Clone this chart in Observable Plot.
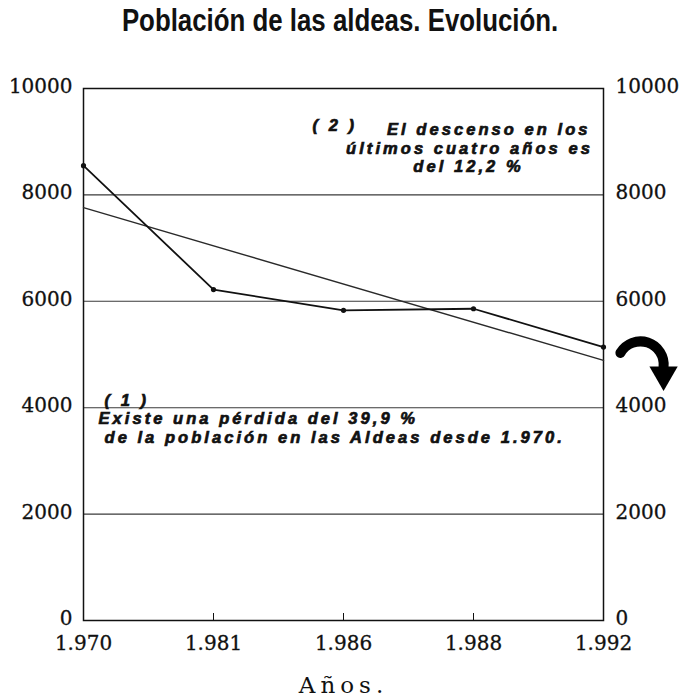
<!DOCTYPE html>
<html>
<head>
<meta charset="utf-8">
<script src="https://cdn.jsdelivr.net/npm/d3@7"></script>
<script src="https://cdn.jsdelivr.net/npm/@observablehq/plot@0.6"></script>
<style>
  body { margin: 0; background: #fff; }
  #title {
    height: 60px; box-sizing: border-box; padding-top: 2px; line-height: 40px; text-align: center;
    font: bold 31.5px "Liberation Sans", Arial, sans-serif; color: #111; white-space: nowrap;
  }
  #title span { display: inline-block; transform: scaleX(0.82); transform-origin: 50% 50%; }
  #chart svg text { font-family: "DejaVu Serif", "Liberation Serif", serif; }
  #chart svg g[aria-label^="y-axis"] text, #chart svg g[aria-label^="x-axis"] text { stroke: #111; stroke-width: 0.3px; }
  #chart svg g.note text {
    font-family: "Liberation Sans", Arial, sans-serif; font-weight: bold; font-style: italic;
    letter-spacing: 3.05px; stroke: #111; stroke-width: 0.7px;
  }
  #chart svg g.xlab text { letter-spacing: 5px; }
</style>
</head>
<body>
<div id="title"><span>Población de las aldeas. Evolución.</span></div>
<div id="chart"></div>
<script>
// ---- data ----
const years = ["1.970", "1.981", "1.986", "1.988", "1.992"];
const population = [8550, 6220, 5830, 5860, 5140];
const trendYears = ["1.970", "1.992"];
const trendValues = [7760, 4890];
const yTicks = [0, 2000, 4000, 6000, 8000, 10000];
const gridValues = [2000, 4000, 6000, 8000];
const note2 = ["( 2 )", "El descenso en los", "últimos cuatro años es", "del 12,2 %"];
const note1 = ["( 1 )", "Existe una pérdida del 39,9 %", "de la población en las Aldeas desde 1.970."];
const xLabel = "Años.";

const data = population.map((v, i) => ({ i, year: years[i], v }));
const trend = trendValues.map((v, k) => ({ i: years.indexOf(trendYears[k]), v }));

const noteStyle = { fontSize: 16.5, fill: "#111", lineAnchor: "bottom", className: "note" };

const chart = Plot.plot({
  width: 680,
  height: 636,
  marginTop: 28,
  marginBottom: 76,
  marginLeft: 83,
  marginRight: 77,
  x: { domain: [0, years.length - 1], label: null },
  y: { domain: [0, 10000], label: null },
  style: { fontSize: "20px", color: "#111", background: "#fff" },
  marks: [
    Plot.ruleY(gridValues, { stroke: "#3a3a3a", strokeWidth: 1.1 }),
    Plot.frame({ stroke: "#111", strokeWidth: 1.5 }),
    Plot.axisY({ ticks: yTicks, anchor: "left", tickSize: 0, tickPadding: 11, dy: -2, tickFormat: d => String(d), label: null }),
    Plot.axisY({ ticks: yTicks, anchor: "right", tickSize: 0, tickPadding: 12, dy: -2, tickFormat: d => String(d), label: null }),
    Plot.axisX({ ticks: d3.range(years.length), tickSize: 0, tickPadding: 15, tickFormat: i => years[i], label: null }),
    Plot.axisX({ ticks: d3.range(1, years.length - 1), tickSize: -7, fill: "none", label: null }),
    Plot.line(trend, { x: "i", y: "v", stroke: "#2a2a2a", strokeWidth: 1.4 }),
    Plot.line(data, { x: "i", y: "v", stroke: "#111", strokeWidth: 1.8 }),
    Plot.dot(data, { x: "i", y: "v", r: 2.6, fill: "#111" }),
    // note (2)
    Plot.text([note2[0]], { ...noteStyle, frameAnchor: "top-left", textAnchor: "start", dx: 229, dy: 42 }),
    Plot.text([note2[1]], { ...noteStyle, frameAnchor: "top-right", textAnchor: "end", dx: -13, dy: 46 }),
    Plot.text([note2[2]], { ...noteStyle, frameAnchor: "top-left", textAnchor: "middle", dx: 386, dy: 65 }),
    Plot.text([note2[3]], { ...noteStyle, frameAnchor: "top-left", textAnchor: "middle", dx: 385, dy: 83 }),
    // note (1)
    Plot.text([note1[0]], { ...noteStyle, frameAnchor: "top-left", textAnchor: "start", dx: 21, dy: 317 }),
    Plot.text([note1[1]], { ...noteStyle, frameAnchor: "top-left", textAnchor: "start", dx: 15, dy: 335 }),
    Plot.text([note1[2]], { ...noteStyle, frameAnchor: "top-left", textAnchor: "start", dx: 21, dy: 354 }),
    // x axis title
    Plot.text([xLabel], { frameAnchor: "bottom", dy: 72, lineAnchor: "bottom", fontSize: 23, fill: "#111", className: "xlab" }),
    // curved arrow decoration at the right: bent shaft + triangular head
    Plot.arrow([0], { x1: () => 4.13, y1: () => 5030, x2: () => 4.462, y2: () => 4760, bend: 78, headLength: 0, stroke: "#000", strokeWidth: 10 }),
    Plot.dot([0], { x: () => 4.462, y: () => 4620, symbol: "triangle", rotate: 180, r: 10.5, fill: "#000", stroke: "none" })
  ]
});

document.getElementById("chart").appendChild(chart);
</script>
</body>
</html>
